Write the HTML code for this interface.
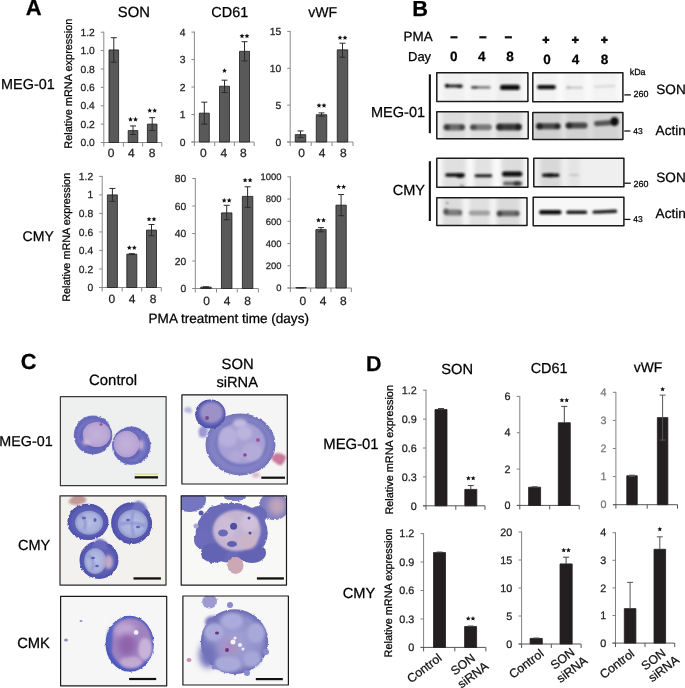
<!DOCTYPE html>
<html><head><meta charset="utf-8"><style>
html,body{margin:0;padding:0;background:#fff;width:685px;height:688px;overflow:hidden;}
svg{display:block;font-family:"Liberation Sans", sans-serif;}

</style></head><body>
<svg width="685" height="688" viewBox="0 0 685 688" style="will-change:transform" text-rendering="geometricPrecision" font-family='"Liberation Sans", sans-serif' stroke-linejoin="round">
<defs><filter id="bl1" x="-20%" y="-100%" width="140%" height="300%"><feGaussianBlur stdDeviation="0.9 0.8"/></filter><filter id="bl15" x="-20%" y="-100%" width="140%" height="300%"><feGaussianBlur stdDeviation="1.3 1.3"/></filter><filter id="bl2" x="-20%" y="-50%" width="140%" height="200%"><feGaussianBlur stdDeviation="2.2"/></filter><filter id="bl05" x="-20%" y="-100%" width="140%" height="300%"><feGaussianBlur stdDeviation="0.55"/></filter><clipPath id="bclip1"><rect x="436.80" y="72.70" width="91.10" height="28.80"/></clipPath><clipPath id="bclip2"><rect x="436.80" y="111.80" width="91.40" height="27.00"/></clipPath><clipPath id="bclip3"><rect x="532.80" y="72.80" width="90.10" height="29.00"/></clipPath><clipPath id="bclip4"><rect x="532.80" y="112.60" width="90.10" height="26.90"/></clipPath><clipPath id="bclip5"><rect x="436.80" y="158.20" width="91.10" height="29.00"/></clipPath><clipPath id="bclip6"><rect x="436.80" y="197.80" width="90.20" height="27.70"/></clipPath><clipPath id="bclip7"><rect x="533.80" y="158.20" width="90.10" height="28.60"/></clipPath><clipPath id="bclip8"><rect x="533.20" y="197.30" width="90.70" height="28.50"/></clipPath><filter id="cb06" x="-50%" y="-50%" width="200%" height="200%"><feGaussianBlur stdDeviation="0.6"/></filter><filter id="cb15" x="-60%" y="-60%" width="220%" height="220%"><feGaussianBlur stdDeviation="1.5"/></filter><filter id="cb3" x="-100%" y="-100%" width="300%" height="300%"><feGaussianBlur stdDeviation="3"/></filter><filter id="cb1" x="-50%" y="-50%" width="200%" height="200%"><feGaussianBlur stdDeviation="1.0"/></filter><filter id="rough" x="-20%" y="-20%" width="140%" height="140%"><feTurbulence type="fractalNoise" baseFrequency="0.3" numOctaves="2" seed="3" result="t"/><feDisplacementMap in="SourceGraphic" in2="t" scale="2.6" xChannelSelector="R" yChannelSelector="G" result="d"/><feGaussianBlur in="d" stdDeviation="0.75"/></filter><filter id="rough2" x="-20%" y="-20%" width="140%" height="140%"><feTurbulence type="fractalNoise" baseFrequency="0.09" numOctaves="2" seed="7" result="t"/><feDisplacementMap in="SourceGraphic" in2="t" scale="7" xChannelSelector="R" yChannelSelector="G" result="d"/><feGaussianBlur in="d" stdDeviation="0.9"/></filter><radialGradient id="cyA" cx="0.5" cy="0.5" r="0.5"><stop offset="0" stop-color="#8080c8"/><stop offset="0.75" stop-color="#7474c2"/><stop offset="0.92" stop-color="#6464ba"/><stop offset="1" stop-color="#7c7cc6"/></radialGradient><radialGradient id="nuA" cx="0.5" cy="0.5" r="0.5"><stop offset="0" stop-color="#c2b2da"/><stop offset="0.7" stop-color="#bca8d6"/><stop offset="1" stop-color="#ae9ccf"/></radialGradient><radialGradient id="cyB" cx="0.5" cy="0.5" r="0.5"><stop offset="0" stop-color="#7070c0"/><stop offset="0.8" stop-color="#5a5cb2"/><stop offset="1" stop-color="#4c50aa"/></radialGradient><radialGradient id="nuB" cx="0.5" cy="0.5" r="0.5"><stop offset="0" stop-color="#b8c0e4"/><stop offset="0.75" stop-color="#a8b0dc"/><stop offset="1" stop-color="#9098cc"/></radialGradient><radialGradient id="cyC" cx="0.5" cy="0.5" r="0.5"><stop offset="0" stop-color="#8a70b8"/><stop offset="0.85" stop-color="#7a68b4"/><stop offset="0.93" stop-color="#4a58bc"/><stop offset="1" stop-color="#4656bc"/></radialGradient><radialGradient id="cyD" cx="0.5" cy="0.5" r="0.5"><stop offset="0" stop-color="#a4a4d6"/><stop offset="0.78" stop-color="#9090ca"/><stop offset="1" stop-color="#6a6ab6"/></radialGradient><radialGradient id="cyE" cx="0.5" cy="0.5" r="0.5"><stop offset="0" stop-color="#8888c8"/><stop offset="0.85" stop-color="#8282c4"/><stop offset="1" stop-color="#7272bc"/></radialGradient><clipPath id="cc1"><rect x="60.40" y="396.60" width="105.70" height="89.10"/></clipPath><clipPath id="cc2"><rect x="181.90" y="394.80" width="105.40" height="89.20"/></clipPath><clipPath id="cc3"><rect x="60.00" y="495.80" width="106.00" height="89.30"/></clipPath><clipPath id="cc4"><rect x="181.20" y="495.80" width="105.30" height="89.30"/></clipPath><clipPath id="cc5"><rect x="60.60" y="596.30" width="106.10" height="89.50"/></clipPath><clipPath id="cc6"><rect x="182.90" y="596.00" width="105.50" height="89.00"/></clipPath></defs>
<rect width="685" height="688" fill="#fff"/>
<text stroke="#000" stroke-width="0.25" x="25.85" y="15.30" font-size="21.95" font-weight="bold" fill="#000">A</text>
<text stroke="#000" stroke-width="0.25" x="117.83" y="16.63" font-size="14.80" fill="#000">SON</text>
<text stroke="#000" stroke-width="0.25" x="211.37" y="16.95" font-size="14.40" fill="#000">CD61</text>
<text stroke="#000" stroke-width="0.25" x="308.15" y="16.62" font-size="14.13" fill="#000">vWF</text>
<text stroke="#000" stroke-width="0.25" x="1.07" y="89.36" font-size="14.41" fill="#000">MEG-01</text>
<text stroke="#000" stroke-width="0.25" x="22.58" y="241.04" font-size="14.10" fill="#000">CMY</text>
<text stroke="#000" stroke-width="0.25" x="148.59" y="323.33" font-size="13.56" fill="#000">PMA treatment time (days)</text>
<text stroke="#000" stroke-width="0.25" transform="translate(71.73,148.70) rotate(-90)" font-size="10.95" fill="#000">Relative mRNA expression</text>
<text stroke="#000" stroke-width="0.25" transform="translate(70.45,301.79) rotate(-90)" font-size="10.85" fill="#000">Relative mRNA expression</text>
<line x1="103.80" y1="31.70" x2="103.80" y2="142.50" stroke="#8a8a8a" stroke-width="1"/>
<line x1="100.80" y1="142.50" x2="103.80" y2="142.50" stroke="#8a8a8a" stroke-width="1"/>
<text stroke="#222" stroke-width="0.25" x="94.80" y="146.05" font-size="10.30" text-anchor="end" fill="#222">0.0</text>
<line x1="100.80" y1="124.12" x2="103.80" y2="124.12" stroke="#8a8a8a" stroke-width="1"/>
<text stroke="#222" stroke-width="0.25" x="94.80" y="127.66" font-size="10.30" text-anchor="end" fill="#222">0.2</text>
<line x1="100.80" y1="105.73" x2="103.80" y2="105.73" stroke="#8a8a8a" stroke-width="1"/>
<text stroke="#222" stroke-width="0.25" x="94.80" y="109.28" font-size="10.30" text-anchor="end" fill="#222">0.4</text>
<line x1="100.80" y1="87.35" x2="103.80" y2="87.35" stroke="#8a8a8a" stroke-width="1"/>
<text stroke="#222" stroke-width="0.25" x="94.80" y="90.90" font-size="10.30" text-anchor="end" fill="#222">0.6</text>
<line x1="100.80" y1="68.97" x2="103.80" y2="68.97" stroke="#8a8a8a" stroke-width="1"/>
<text stroke="#222" stroke-width="0.25" x="94.80" y="72.51" font-size="10.30" text-anchor="end" fill="#222">0.8</text>
<line x1="100.80" y1="50.58" x2="103.80" y2="50.58" stroke="#8a8a8a" stroke-width="1"/>
<text stroke="#222" stroke-width="0.25" x="94.80" y="54.13" font-size="10.30" text-anchor="end" fill="#222">1.0</text>
<line x1="100.80" y1="32.20" x2="103.80" y2="32.20" stroke="#8a8a8a" stroke-width="1"/>
<text stroke="#222" stroke-width="0.25" x="94.80" y="35.80" font-size="10.30" text-anchor="end" fill="#222">1.2</text>
<line x1="100.80" y1="142.50" x2="161.80" y2="142.50" stroke="#8a8a8a" stroke-width="1"/>
<line x1="103.80" y1="142.50" x2="103.80" y2="146.50" stroke="#8a8a8a" stroke-width="1"/>
<line x1="123.40" y1="142.50" x2="123.40" y2="146.50" stroke="#8a8a8a" stroke-width="1"/>
<line x1="142.60" y1="142.50" x2="142.60" y2="146.50" stroke="#8a8a8a" stroke-width="1"/>
<line x1="161.80" y1="142.50" x2="161.80" y2="146.50" stroke="#8a8a8a" stroke-width="1"/>
<rect x="109.00" y="49.94" width="9.60" height="92.56" fill="#595959" stroke="#1a1a1a" stroke-width="0.8"/>
<line x1="113.80" y1="37.72" x2="113.80" y2="62.16" stroke="#2a2a2a" stroke-width="1"/>
<line x1="110.80" y1="37.72" x2="116.80" y2="37.72" stroke="#2a2a2a" stroke-width="1"/>
<line x1="110.80" y1="62.16" x2="116.80" y2="62.16" stroke="#2a2a2a" stroke-width="1"/>
<rect x="128.20" y="130.55" width="9.60" height="11.95" fill="#595959" stroke="#1a1a1a" stroke-width="0.8"/>
<line x1="133.00" y1="125.95" x2="133.00" y2="134.50" stroke="#2a2a2a" stroke-width="1"/>
<line x1="130.00" y1="125.95" x2="136.00" y2="125.95" stroke="#2a2a2a" stroke-width="1"/>
<line x1="130.00" y1="134.50" x2="136.00" y2="134.50" stroke="#2a2a2a" stroke-width="1"/>
<rect x="147.40" y="124.12" width="9.60" height="18.38" fill="#595959" stroke="#1a1a1a" stroke-width="0.8"/>
<line x1="152.20" y1="117.68" x2="152.20" y2="130.55" stroke="#2a2a2a" stroke-width="1"/>
<line x1="149.20" y1="117.68" x2="155.20" y2="117.68" stroke="#2a2a2a" stroke-width="1"/>
<line x1="149.20" y1="130.55" x2="155.20" y2="130.55" stroke="#2a2a2a" stroke-width="1"/>
<text stroke="#222" stroke-width="0.25" x="111.00" y="157.03" font-size="12.00" text-anchor="middle" fill="#222">0</text>
<text stroke="#222" stroke-width="0.25" x="131.30" y="157.03" font-size="12.00" text-anchor="middle" fill="#222">4</text>
<text stroke="#222" stroke-width="0.25" x="152.00" y="157.03" font-size="12.00" text-anchor="middle" fill="#222">8</text>
<polygon points="130.50,116.86 131.19,118.51 132.97,118.66 131.61,119.82 132.03,121.56 130.50,120.63 128.97,121.56 129.39,119.82 128.03,118.66 129.81,118.51" fill="#111"/>
<polygon points="135.50,116.86 136.19,118.51 137.97,118.66 136.61,119.82 137.03,121.56 135.50,120.63 133.97,121.56 134.39,119.82 133.03,118.66 134.81,118.51" fill="#111"/>
<polygon points="149.70,108.06 150.39,109.71 152.17,109.86 150.81,111.02 151.23,112.76 149.70,111.83 148.17,112.76 148.59,111.02 147.23,109.86 149.01,109.71" fill="#111"/>
<polygon points="154.70,108.06 155.39,109.71 157.17,109.86 155.81,111.02 156.23,112.76 154.70,111.83 153.17,112.76 153.59,111.02 152.23,109.86 154.01,109.71" fill="#111"/>
<line x1="194.40" y1="31.60" x2="194.40" y2="142.00" stroke="#8a8a8a" stroke-width="1"/>
<line x1="191.40" y1="142.00" x2="194.40" y2="142.00" stroke="#8a8a8a" stroke-width="1"/>
<text stroke="#222" stroke-width="0.25" x="185.40" y="145.55" font-size="10.30" text-anchor="end" fill="#222">0</text>
<line x1="191.40" y1="114.53" x2="194.40" y2="114.53" stroke="#8a8a8a" stroke-width="1"/>
<text stroke="#222" stroke-width="0.25" x="185.40" y="118.07" font-size="10.30" text-anchor="end" fill="#222">1</text>
<line x1="191.40" y1="87.05" x2="194.40" y2="87.05" stroke="#8a8a8a" stroke-width="1"/>
<text stroke="#222" stroke-width="0.25" x="185.40" y="90.65" font-size="10.30" text-anchor="end" fill="#222">2</text>
<line x1="191.40" y1="59.57" x2="194.40" y2="59.57" stroke="#8a8a8a" stroke-width="1"/>
<text stroke="#222" stroke-width="0.25" x="185.40" y="63.12" font-size="10.30" text-anchor="end" fill="#222">3</text>
<line x1="191.40" y1="32.10" x2="194.40" y2="32.10" stroke="#8a8a8a" stroke-width="1"/>
<text stroke="#222" stroke-width="0.25" x="185.40" y="35.64" font-size="10.30" text-anchor="end" fill="#222">4</text>
<line x1="191.40" y1="142.00" x2="254.20" y2="142.00" stroke="#8a8a8a" stroke-width="1"/>
<line x1="194.40" y1="142.00" x2="194.40" y2="146.00" stroke="#8a8a8a" stroke-width="1"/>
<line x1="214.70" y1="142.00" x2="214.70" y2="146.00" stroke="#8a8a8a" stroke-width="1"/>
<line x1="234.40" y1="142.00" x2="234.40" y2="146.00" stroke="#8a8a8a" stroke-width="1"/>
<line x1="254.20" y1="142.00" x2="254.20" y2="146.00" stroke="#8a8a8a" stroke-width="1"/>
<rect x="199.30" y="113.15" width="10.00" height="28.85" fill="#595959" stroke="#1a1a1a" stroke-width="0.8"/>
<line x1="204.30" y1="102.16" x2="204.30" y2="124.14" stroke="#2a2a2a" stroke-width="1"/>
<line x1="201.30" y1="102.16" x2="207.30" y2="102.16" stroke="#2a2a2a" stroke-width="1"/>
<line x1="201.30" y1="124.14" x2="207.30" y2="124.14" stroke="#2a2a2a" stroke-width="1"/>
<rect x="219.50" y="86.23" width="10.00" height="55.77" fill="#595959" stroke="#1a1a1a" stroke-width="0.8"/>
<line x1="224.50" y1="80.18" x2="224.50" y2="92.54" stroke="#2a2a2a" stroke-width="1"/>
<line x1="221.50" y1="80.18" x2="227.50" y2="80.18" stroke="#2a2a2a" stroke-width="1"/>
<line x1="221.50" y1="92.54" x2="227.50" y2="92.54" stroke="#2a2a2a" stroke-width="1"/>
<rect x="239.50" y="51.33" width="10.00" height="90.67" fill="#595959" stroke="#1a1a1a" stroke-width="0.8"/>
<line x1="244.50" y1="41.72" x2="244.50" y2="60.95" stroke="#2a2a2a" stroke-width="1"/>
<line x1="241.50" y1="41.72" x2="247.50" y2="41.72" stroke="#2a2a2a" stroke-width="1"/>
<line x1="241.50" y1="60.95" x2="247.50" y2="60.95" stroke="#2a2a2a" stroke-width="1"/>
<text stroke="#222" stroke-width="0.25" x="203.40" y="157.23" font-size="12.00" text-anchor="middle" fill="#222">0</text>
<text stroke="#222" stroke-width="0.25" x="223.90" y="157.23" font-size="12.00" text-anchor="middle" fill="#222">4</text>
<text stroke="#222" stroke-width="0.25" x="243.40" y="157.23" font-size="12.00" text-anchor="middle" fill="#222">8</text>
<polygon points="224.50,68.16 225.19,69.81 226.97,69.96 225.61,71.12 226.03,72.86 224.50,71.93 222.97,72.86 223.39,71.12 222.03,69.96 223.81,69.81" fill="#111"/>
<polygon points="242.00,33.46 242.69,35.11 244.47,35.26 243.11,36.42 243.53,38.16 242.00,37.23 240.47,38.16 240.89,36.42 239.53,35.26 241.31,35.11" fill="#111"/>
<polygon points="247.00,33.46 247.69,35.11 249.47,35.26 248.11,36.42 248.53,38.16 247.00,37.23 245.47,38.16 245.89,36.42 244.53,35.26 246.31,35.11" fill="#111"/>
<line x1="290.20" y1="30.90" x2="290.20" y2="142.00" stroke="#8a8a8a" stroke-width="1"/>
<line x1="287.20" y1="142.00" x2="290.20" y2="142.00" stroke="#8a8a8a" stroke-width="1"/>
<text stroke="#222" stroke-width="0.25" x="281.20" y="145.55" font-size="10.30" text-anchor="end" fill="#222">0</text>
<line x1="287.20" y1="105.13" x2="290.20" y2="105.13" stroke="#8a8a8a" stroke-width="1"/>
<text stroke="#222" stroke-width="0.25" x="281.20" y="108.63" font-size="10.30" text-anchor="end" fill="#222">5</text>
<line x1="287.20" y1="68.27" x2="290.20" y2="68.27" stroke="#8a8a8a" stroke-width="1"/>
<text stroke="#222" stroke-width="0.25" x="281.20" y="71.81" font-size="10.30" text-anchor="end" fill="#222">10</text>
<line x1="287.20" y1="31.40" x2="290.20" y2="31.40" stroke="#8a8a8a" stroke-width="1"/>
<text stroke="#222" stroke-width="0.25" x="281.20" y="34.89" font-size="10.30" text-anchor="end" fill="#222">15</text>
<line x1="287.20" y1="142.00" x2="353.00" y2="142.00" stroke="#8a8a8a" stroke-width="1"/>
<line x1="290.20" y1="142.00" x2="290.20" y2="146.00" stroke="#8a8a8a" stroke-width="1"/>
<line x1="311.20" y1="142.00" x2="311.20" y2="146.00" stroke="#8a8a8a" stroke-width="1"/>
<line x1="332.10" y1="142.00" x2="332.10" y2="146.00" stroke="#8a8a8a" stroke-width="1"/>
<line x1="353.00" y1="142.00" x2="353.00" y2="146.00" stroke="#8a8a8a" stroke-width="1"/>
<rect x="295.25" y="134.63" width="10.50" height="7.37" fill="#595959" stroke="#1a1a1a" stroke-width="0.8"/>
<line x1="300.50" y1="130.94" x2="300.50" y2="137.58" stroke="#2a2a2a" stroke-width="1"/>
<line x1="297.50" y1="130.94" x2="303.50" y2="130.94" stroke="#2a2a2a" stroke-width="1"/>
<line x1="297.50" y1="137.58" x2="303.50" y2="137.58" stroke="#2a2a2a" stroke-width="1"/>
<rect x="316.25" y="114.72" width="10.50" height="27.28" fill="#595959" stroke="#1a1a1a" stroke-width="0.8"/>
<line x1="321.50" y1="112.88" x2="321.50" y2="116.19" stroke="#2a2a2a" stroke-width="1"/>
<line x1="318.50" y1="112.88" x2="324.50" y2="112.88" stroke="#2a2a2a" stroke-width="1"/>
<line x1="318.50" y1="116.19" x2="324.50" y2="116.19" stroke="#2a2a2a" stroke-width="1"/>
<rect x="337.25" y="49.83" width="10.50" height="92.17" fill="#595959" stroke="#1a1a1a" stroke-width="0.8"/>
<line x1="342.50" y1="43.20" x2="342.50" y2="57.21" stroke="#2a2a2a" stroke-width="1"/>
<line x1="339.50" y1="43.20" x2="345.50" y2="43.20" stroke="#2a2a2a" stroke-width="1"/>
<line x1="339.50" y1="57.21" x2="345.50" y2="57.21" stroke="#2a2a2a" stroke-width="1"/>
<text stroke="#222" stroke-width="0.25" x="301.50" y="157.23" font-size="12.00" text-anchor="middle" fill="#222">0</text>
<text stroke="#222" stroke-width="0.25" x="322.10" y="157.23" font-size="12.00" text-anchor="middle" fill="#222">4</text>
<text stroke="#222" stroke-width="0.25" x="343.40" y="157.23" font-size="12.00" text-anchor="middle" fill="#222">8</text>
<polygon points="319.00,102.96 319.69,104.61 321.47,104.76 320.11,105.92 320.53,107.66 319.00,106.73 317.47,107.66 317.89,105.92 316.53,104.76 318.31,104.61" fill="#111"/>
<polygon points="324.00,102.96 324.69,104.61 326.47,104.76 325.11,105.92 325.53,107.66 324.00,106.73 322.47,107.66 322.89,105.92 321.53,104.76 323.31,104.61" fill="#111"/>
<polygon points="340.00,35.16 340.69,36.81 342.47,36.96 341.11,38.12 341.53,39.86 340.00,38.93 338.47,39.86 338.89,38.12 337.53,36.96 339.31,36.81" fill="#111"/>
<polygon points="345.00,35.16 345.69,36.81 347.47,36.96 346.11,38.12 346.53,39.86 345.00,38.93 343.47,39.86 343.89,38.12 342.53,36.96 344.31,36.81" fill="#111"/>
<line x1="102.20" y1="175.90" x2="102.20" y2="287.50" stroke="#8a8a8a" stroke-width="1"/>
<line x1="99.20" y1="287.50" x2="102.20" y2="287.50" stroke="#8a8a8a" stroke-width="1"/>
<text stroke="#222" stroke-width="0.25" x="93.20" y="291.05" font-size="10.30" text-anchor="end" fill="#222">0</text>
<line x1="99.20" y1="268.98" x2="102.20" y2="268.98" stroke="#8a8a8a" stroke-width="1"/>
<text stroke="#222" stroke-width="0.25" x="93.20" y="272.53" font-size="10.30" text-anchor="end" fill="#222">0.2</text>
<line x1="99.20" y1="250.47" x2="102.20" y2="250.47" stroke="#8a8a8a" stroke-width="1"/>
<text stroke="#222" stroke-width="0.25" x="93.20" y="254.01" font-size="10.30" text-anchor="end" fill="#222">0.4</text>
<line x1="99.20" y1="231.95" x2="102.20" y2="231.95" stroke="#8a8a8a" stroke-width="1"/>
<text stroke="#222" stroke-width="0.25" x="93.20" y="235.50" font-size="10.30" text-anchor="end" fill="#222">0.6</text>
<line x1="99.20" y1="213.43" x2="102.20" y2="213.43" stroke="#8a8a8a" stroke-width="1"/>
<text stroke="#222" stroke-width="0.25" x="93.20" y="216.98" font-size="10.30" text-anchor="end" fill="#222">0.8</text>
<line x1="99.20" y1="194.92" x2="102.20" y2="194.92" stroke="#8a8a8a" stroke-width="1"/>
<text stroke="#222" stroke-width="0.25" x="93.20" y="198.46" font-size="10.30" text-anchor="end" fill="#222">1</text>
<line x1="99.20" y1="176.40" x2="102.20" y2="176.40" stroke="#8a8a8a" stroke-width="1"/>
<text stroke="#222" stroke-width="0.25" x="93.20" y="180.00" font-size="10.30" text-anchor="end" fill="#222">1.2</text>
<line x1="99.20" y1="287.50" x2="161.30" y2="287.50" stroke="#8a8a8a" stroke-width="1"/>
<line x1="102.20" y1="287.50" x2="102.20" y2="291.50" stroke="#8a8a8a" stroke-width="1"/>
<line x1="122.20" y1="287.50" x2="122.20" y2="291.50" stroke="#8a8a8a" stroke-width="1"/>
<line x1="141.70" y1="287.50" x2="141.70" y2="291.50" stroke="#8a8a8a" stroke-width="1"/>
<line x1="161.30" y1="287.50" x2="161.30" y2="291.50" stroke="#8a8a8a" stroke-width="1"/>
<rect x="107.40" y="194.92" width="10.00" height="92.58" fill="#595959" stroke="#1a1a1a" stroke-width="0.8"/>
<line x1="112.40" y1="188.44" x2="112.40" y2="201.40" stroke="#2a2a2a" stroke-width="1"/>
<line x1="109.40" y1="188.44" x2="115.40" y2="188.44" stroke="#2a2a2a" stroke-width="1"/>
<line x1="109.40" y1="201.40" x2="115.40" y2="201.40" stroke="#2a2a2a" stroke-width="1"/>
<rect x="126.80" y="254.17" width="10.00" height="33.33" fill="#595959" stroke="#1a1a1a" stroke-width="0.8"/>
<line x1="131.80" y1="253.71" x2="131.80" y2="254.63" stroke="#2a2a2a" stroke-width="1"/>
<line x1="128.80" y1="253.71" x2="134.80" y2="253.71" stroke="#2a2a2a" stroke-width="1"/>
<line x1="128.80" y1="254.63" x2="134.80" y2="254.63" stroke="#2a2a2a" stroke-width="1"/>
<rect x="146.50" y="230.10" width="10.00" height="57.40" fill="#595959" stroke="#1a1a1a" stroke-width="0.8"/>
<line x1="151.50" y1="224.54" x2="151.50" y2="235.65" stroke="#2a2a2a" stroke-width="1"/>
<line x1="148.50" y1="224.54" x2="154.50" y2="224.54" stroke="#2a2a2a" stroke-width="1"/>
<line x1="148.50" y1="235.65" x2="154.50" y2="235.65" stroke="#2a2a2a" stroke-width="1"/>
<text stroke="#222" stroke-width="0.25" x="111.90" y="303.43" font-size="12.00" text-anchor="middle" fill="#222">0</text>
<text stroke="#222" stroke-width="0.25" x="132.00" y="303.43" font-size="12.00" text-anchor="middle" fill="#222">4</text>
<text stroke="#222" stroke-width="0.25" x="153.00" y="303.43" font-size="12.00" text-anchor="middle" fill="#222">8</text>
<polygon points="129.30,245.16 129.99,246.81 131.77,246.96 130.41,248.12 130.83,249.86 129.30,248.93 127.77,249.86 128.19,248.12 126.83,246.96 128.61,246.81" fill="#111"/>
<polygon points="134.30,245.16 134.99,246.81 136.77,246.96 135.41,248.12 135.83,249.86 134.30,248.93 132.77,249.86 133.19,248.12 131.83,246.96 133.61,246.81" fill="#111"/>
<polygon points="149.00,216.66 149.69,218.31 151.47,218.46 150.11,219.62 150.53,221.36 149.00,220.43 147.47,221.36 147.89,219.62 146.53,218.46 148.31,218.31" fill="#111"/>
<polygon points="154.00,216.66 154.69,218.31 156.47,218.46 155.11,219.62 155.53,221.36 154.00,220.43 152.47,221.36 152.89,219.62 151.53,218.46 153.31,218.31" fill="#111"/>
<line x1="195.30" y1="178.00" x2="195.30" y2="288.50" stroke="#8a8a8a" stroke-width="1"/>
<line x1="192.30" y1="288.50" x2="195.30" y2="288.50" stroke="#8a8a8a" stroke-width="1"/>
<text stroke="#222" stroke-width="0.25" x="186.30" y="292.05" font-size="10.30" text-anchor="end" fill="#222">0</text>
<line x1="192.30" y1="261.00" x2="195.30" y2="261.00" stroke="#8a8a8a" stroke-width="1"/>
<text stroke="#222" stroke-width="0.25" x="186.30" y="264.55" font-size="10.30" text-anchor="end" fill="#222">20</text>
<line x1="192.30" y1="233.50" x2="195.30" y2="233.50" stroke="#8a8a8a" stroke-width="1"/>
<text stroke="#222" stroke-width="0.25" x="186.30" y="237.05" font-size="10.30" text-anchor="end" fill="#222">40</text>
<line x1="192.30" y1="206.00" x2="195.30" y2="206.00" stroke="#8a8a8a" stroke-width="1"/>
<text stroke="#222" stroke-width="0.25" x="186.30" y="209.55" font-size="10.30" text-anchor="end" fill="#222">60</text>
<line x1="192.30" y1="178.50" x2="195.30" y2="178.50" stroke="#8a8a8a" stroke-width="1"/>
<text stroke="#222" stroke-width="0.25" x="186.30" y="182.05" font-size="10.30" text-anchor="end" fill="#222">80</text>
<line x1="192.30" y1="288.50" x2="258.40" y2="288.50" stroke="#8a8a8a" stroke-width="1"/>
<line x1="195.30" y1="288.50" x2="195.30" y2="292.50" stroke="#8a8a8a" stroke-width="1"/>
<line x1="216.50" y1="288.50" x2="216.50" y2="292.50" stroke="#8a8a8a" stroke-width="1"/>
<line x1="237.30" y1="288.50" x2="237.30" y2="292.50" stroke="#8a8a8a" stroke-width="1"/>
<line x1="258.40" y1="288.50" x2="258.40" y2="292.50" stroke="#8a8a8a" stroke-width="1"/>
<rect x="200.75" y="287.12" width="10.50" height="1.38" fill="#595959" stroke="#1a1a1a" stroke-width="0.8"/>
<line x1="206.00" y1="286.85" x2="206.00" y2="287.40" stroke="#2a2a2a" stroke-width="1"/>
<line x1="203.00" y1="286.85" x2="209.00" y2="286.85" stroke="#2a2a2a" stroke-width="1"/>
<line x1="203.00" y1="287.40" x2="209.00" y2="287.40" stroke="#2a2a2a" stroke-width="1"/>
<rect x="221.45" y="212.88" width="10.50" height="75.62" fill="#595959" stroke="#1a1a1a" stroke-width="0.8"/>
<line x1="226.70" y1="205.31" x2="226.70" y2="219.75" stroke="#2a2a2a" stroke-width="1"/>
<line x1="223.70" y1="205.31" x2="229.70" y2="205.31" stroke="#2a2a2a" stroke-width="1"/>
<line x1="223.70" y1="219.75" x2="229.70" y2="219.75" stroke="#2a2a2a" stroke-width="1"/>
<rect x="242.35" y="196.38" width="10.50" height="92.12" fill="#595959" stroke="#1a1a1a" stroke-width="0.8"/>
<line x1="247.60" y1="186.75" x2="247.60" y2="207.38" stroke="#2a2a2a" stroke-width="1"/>
<line x1="244.60" y1="186.75" x2="250.60" y2="186.75" stroke="#2a2a2a" stroke-width="1"/>
<line x1="244.60" y1="207.38" x2="250.60" y2="207.38" stroke="#2a2a2a" stroke-width="1"/>
<text stroke="#222" stroke-width="0.25" x="206.70" y="305.03" font-size="12.00" text-anchor="middle" fill="#222">0</text>
<text stroke="#222" stroke-width="0.25" x="227.00" y="305.03" font-size="12.00" text-anchor="middle" fill="#222">4</text>
<text stroke="#222" stroke-width="0.25" x="247.70" y="305.03" font-size="12.00" text-anchor="middle" fill="#222">8</text>
<polygon points="224.20,197.86 224.89,199.51 226.67,199.66 225.31,200.82 225.73,202.56 224.20,201.63 222.67,202.56 223.09,200.82 221.73,199.66 223.51,199.51" fill="#111"/>
<polygon points="229.20,197.86 229.89,199.51 231.67,199.66 230.31,200.82 230.73,202.56 229.20,201.63 227.67,202.56 228.09,200.82 226.73,199.66 228.51,199.51" fill="#111"/>
<polygon points="245.10,177.66 245.79,179.31 247.57,179.46 246.21,180.62 246.63,182.36 245.10,181.43 243.57,182.36 243.99,180.62 242.63,179.46 244.41,179.31" fill="#111"/>
<polygon points="250.10,177.66 250.79,179.31 252.57,179.46 251.21,180.62 251.63,182.36 250.10,181.43 248.57,182.36 248.99,180.62 247.63,179.46 249.41,179.31" fill="#111"/>
<line x1="290.40" y1="176.30" x2="290.40" y2="288.00" stroke="#8a8a8a" stroke-width="1"/>
<line x1="287.40" y1="288.00" x2="290.40" y2="288.00" stroke="#8a8a8a" stroke-width="1"/>
<text stroke="#222" stroke-width="0.25" x="281.40" y="291.24" font-size="9.40" text-anchor="end" fill="#222">0</text>
<line x1="287.40" y1="265.76" x2="290.40" y2="265.76" stroke="#8a8a8a" stroke-width="1"/>
<text stroke="#222" stroke-width="0.25" x="281.40" y="269.00" font-size="9.40" text-anchor="end" fill="#222">200</text>
<line x1="287.40" y1="243.52" x2="290.40" y2="243.52" stroke="#8a8a8a" stroke-width="1"/>
<text stroke="#222" stroke-width="0.25" x="281.40" y="246.76" font-size="9.40" text-anchor="end" fill="#222">400</text>
<line x1="287.40" y1="221.28" x2="290.40" y2="221.28" stroke="#8a8a8a" stroke-width="1"/>
<text stroke="#222" stroke-width="0.25" x="281.40" y="224.52" font-size="9.40" text-anchor="end" fill="#222">600</text>
<line x1="287.40" y1="199.04" x2="290.40" y2="199.04" stroke="#8a8a8a" stroke-width="1"/>
<text stroke="#222" stroke-width="0.25" x="281.40" y="202.28" font-size="9.40" text-anchor="end" fill="#222">800</text>
<line x1="287.40" y1="176.80" x2="290.40" y2="176.80" stroke="#8a8a8a" stroke-width="1"/>
<text stroke="#222" stroke-width="0.25" x="281.40" y="180.04" font-size="9.40" text-anchor="end" fill="#222">1000</text>
<line x1="287.40" y1="288.00" x2="351.40" y2="288.00" stroke="#8a8a8a" stroke-width="1"/>
<line x1="290.40" y1="288.00" x2="290.40" y2="292.00" stroke="#8a8a8a" stroke-width="1"/>
<line x1="310.70" y1="288.00" x2="310.70" y2="292.00" stroke="#8a8a8a" stroke-width="1"/>
<line x1="331.00" y1="288.00" x2="331.00" y2="292.00" stroke="#8a8a8a" stroke-width="1"/>
<line x1="351.40" y1="288.00" x2="351.40" y2="292.00" stroke="#8a8a8a" stroke-width="1"/>
<rect x="295.85" y="287.67" width="10.30" height="0.33" fill="#595959" stroke="#1a1a1a" stroke-width="0.8"/>
<line x1="301.00" y1="287.56" x2="301.00" y2="287.78" stroke="#2a2a2a" stroke-width="1"/>
<line x1="298.00" y1="287.56" x2="304.00" y2="287.56" stroke="#2a2a2a" stroke-width="1"/>
<line x1="298.00" y1="287.78" x2="304.00" y2="287.78" stroke="#2a2a2a" stroke-width="1"/>
<rect x="315.85" y="229.62" width="10.30" height="58.38" fill="#595959" stroke="#1a1a1a" stroke-width="0.8"/>
<line x1="321.00" y1="227.62" x2="321.00" y2="231.84" stroke="#2a2a2a" stroke-width="1"/>
<line x1="318.00" y1="227.62" x2="324.00" y2="227.62" stroke="#2a2a2a" stroke-width="1"/>
<line x1="318.00" y1="231.84" x2="324.00" y2="231.84" stroke="#2a2a2a" stroke-width="1"/>
<rect x="335.95" y="205.16" width="10.30" height="82.84" fill="#595959" stroke="#1a1a1a" stroke-width="0.8"/>
<line x1="341.10" y1="194.59" x2="341.10" y2="215.72" stroke="#2a2a2a" stroke-width="1"/>
<line x1="338.10" y1="194.59" x2="344.10" y2="194.59" stroke="#2a2a2a" stroke-width="1"/>
<line x1="338.10" y1="215.72" x2="344.10" y2="215.72" stroke="#2a2a2a" stroke-width="1"/>
<text stroke="#222" stroke-width="0.25" x="302.90" y="304.73" font-size="12.00" text-anchor="middle" fill="#222">0</text>
<text stroke="#222" stroke-width="0.25" x="323.00" y="304.73" font-size="12.00" text-anchor="middle" fill="#222">4</text>
<text stroke="#222" stroke-width="0.25" x="343.30" y="304.73" font-size="12.00" text-anchor="middle" fill="#222">8</text>
<polygon points="318.50,217.66 319.19,219.31 320.97,219.46 319.61,220.62 320.03,222.36 318.50,221.43 316.97,222.36 317.39,220.62 316.03,219.46 317.81,219.31" fill="#111"/>
<polygon points="323.50,217.66 324.19,219.31 325.97,219.46 324.61,220.62 325.03,222.36 323.50,221.43 321.97,222.36 322.39,220.62 321.03,219.46 322.81,219.31" fill="#111"/>
<polygon points="338.60,184.26 339.29,185.91 341.07,186.06 339.71,187.22 340.13,188.96 338.60,188.03 337.07,188.96 337.49,187.22 336.13,186.06 337.91,185.91" fill="#111"/>
<polygon points="343.60,184.26 344.29,185.91 346.07,186.06 344.71,187.22 345.13,188.96 343.60,188.03 342.07,188.96 342.49,187.22 341.13,186.06 342.91,185.91" fill="#111"/>
<text stroke="#000" stroke-width="0.25" x="366.06" y="371.40" font-size="21.51" font-weight="bold" fill="#000">D</text>
<text stroke="#000" stroke-width="0.25" x="441.23" y="373.93" font-size="14.66" fill="#000">SON</text>
<text stroke="#000" stroke-width="0.25" x="530.67" y="372.96" font-size="14.41" fill="#000">CD61</text>
<text stroke="#000" stroke-width="0.25" x="633.75" y="372.48" font-size="13.92" fill="#000">vWF</text>
<text stroke="#000" stroke-width="0.25" x="323.28" y="449.30" font-size="14.89" fill="#000">MEG-01</text>
<text stroke="#000" stroke-width="0.25" x="342.76" y="598.43" font-size="14.66" fill="#000">CMY</text>
<text stroke="#000" stroke-width="0.25" transform="translate(392.92,514.59) rotate(-90)" font-size="10.90" fill="#000">Relative mRNA expression</text>
<text stroke="#000" stroke-width="0.25" transform="translate(392.25,657.39) rotate(-90)" font-size="10.85" fill="#000">Relative mRNA expression</text>
<line x1="426.00" y1="389.70" x2="426.00" y2="505.80" stroke="#808080" stroke-width="1"/>
<line x1="423.00" y1="505.80" x2="426.00" y2="505.80" stroke="#808080" stroke-width="1"/>
<text stroke="#222" stroke-width="0.25" x="416.70" y="509.52" font-size="10.80" text-anchor="end" fill="#222">0</text>
<line x1="423.00" y1="476.90" x2="426.00" y2="476.90" stroke="#808080" stroke-width="1"/>
<text stroke="#222" stroke-width="0.25" x="416.70" y="480.62" font-size="10.80" text-anchor="end" fill="#222">0.3</text>
<line x1="423.00" y1="448.00" x2="426.00" y2="448.00" stroke="#808080" stroke-width="1"/>
<text stroke="#222" stroke-width="0.25" x="416.70" y="451.72" font-size="10.80" text-anchor="end" fill="#222">0.6</text>
<line x1="423.00" y1="419.10" x2="426.00" y2="419.10" stroke="#808080" stroke-width="1"/>
<text stroke="#222" stroke-width="0.25" x="416.70" y="422.82" font-size="10.80" text-anchor="end" fill="#222">0.9</text>
<line x1="423.00" y1="390.20" x2="426.00" y2="390.20" stroke="#808080" stroke-width="1"/>
<text stroke="#222" stroke-width="0.25" x="416.70" y="393.97" font-size="10.80" text-anchor="end" fill="#222">1.2</text>
<line x1="423.00" y1="505.80" x2="485.00" y2="505.80" stroke="#555" stroke-width="1"/>
<line x1="426.00" y1="505.80" x2="426.00" y2="509.80" stroke="#555" stroke-width="1"/>
<line x1="455.80" y1="505.80" x2="455.80" y2="509.80" stroke="#555" stroke-width="1"/>
<line x1="485.00" y1="505.80" x2="485.00" y2="509.80" stroke="#555" stroke-width="1"/>
<rect x="435.00" y="409.47" width="12.00" height="96.33" fill="#231f20" stroke="#231f20" stroke-width="0.8"/>
<line x1="441.00" y1="408.50" x2="441.00" y2="409.47" stroke="#444" stroke-width="1"/>
<line x1="438.00" y1="408.50" x2="444.00" y2="408.50" stroke="#444" stroke-width="1"/>
<rect x="464.80" y="489.42" width="12.00" height="16.38" fill="#231f20" stroke="#231f20" stroke-width="0.8"/>
<line x1="470.80" y1="485.57" x2="470.80" y2="489.42" stroke="#444" stroke-width="1"/>
<line x1="467.80" y1="485.57" x2="473.80" y2="485.57" stroke="#444" stroke-width="1"/>
<polygon points="468.40,475.70 469.07,477.33 470.83,477.47 469.49,478.61 469.90,480.32 468.40,479.40 466.90,480.32 467.31,478.61 465.97,477.47 467.73,477.33" fill="#111"/>
<polygon points="473.20,475.70 473.87,477.33 475.63,477.47 474.29,478.61 474.70,480.32 473.20,479.40 471.70,480.32 472.11,478.61 470.77,477.47 472.53,477.33" fill="#111"/>
<line x1="519.80" y1="395.90" x2="519.80" y2="505.40" stroke="#808080" stroke-width="1"/>
<line x1="516.80" y1="505.40" x2="519.80" y2="505.40" stroke="#808080" stroke-width="1"/>
<text stroke="#222" stroke-width="0.25" x="510.50" y="509.12" font-size="10.80" text-anchor="end" fill="#222">0</text>
<line x1="516.80" y1="469.07" x2="519.80" y2="469.07" stroke="#808080" stroke-width="1"/>
<text stroke="#222" stroke-width="0.25" x="510.50" y="472.84" font-size="10.80" text-anchor="end" fill="#222">2</text>
<line x1="516.80" y1="432.73" x2="519.80" y2="432.73" stroke="#808080" stroke-width="1"/>
<text stroke="#222" stroke-width="0.25" x="510.50" y="436.45" font-size="10.80" text-anchor="end" fill="#222">4</text>
<line x1="516.80" y1="396.40" x2="519.80" y2="396.40" stroke="#808080" stroke-width="1"/>
<text stroke="#222" stroke-width="0.25" x="510.50" y="400.12" font-size="10.80" text-anchor="end" fill="#222">6</text>
<line x1="516.80" y1="505.40" x2="579.20" y2="505.40" stroke="#555" stroke-width="1"/>
<line x1="519.80" y1="505.40" x2="519.80" y2="509.40" stroke="#555" stroke-width="1"/>
<line x1="549.70" y1="505.40" x2="549.70" y2="509.40" stroke="#555" stroke-width="1"/>
<line x1="579.20" y1="505.40" x2="579.20" y2="509.40" stroke="#555" stroke-width="1"/>
<rect x="528.60" y="487.23" width="12.00" height="18.17" fill="#231f20" stroke="#231f20" stroke-width="0.8"/>
<line x1="534.60" y1="486.87" x2="534.60" y2="487.23" stroke="#444" stroke-width="1"/>
<line x1="531.60" y1="486.87" x2="537.60" y2="486.87" stroke="#444" stroke-width="1"/>
<rect x="558.30" y="422.74" width="12.00" height="82.66" fill="#231f20" stroke="#231f20" stroke-width="0.8"/>
<line x1="564.30" y1="406.39" x2="564.30" y2="422.74" stroke="#444" stroke-width="1"/>
<line x1="561.30" y1="406.39" x2="567.30" y2="406.39" stroke="#444" stroke-width="1"/>
<polygon points="561.90,397.70 562.57,399.33 564.33,399.47 562.99,400.61 563.40,402.32 561.90,401.40 560.40,402.32 560.81,400.61 559.47,399.47 561.23,399.33" fill="#111"/>
<polygon points="566.70,397.70 567.37,399.33 569.13,399.47 567.79,400.61 568.20,402.32 566.70,401.40 565.20,402.32 565.61,400.61 564.27,399.47 566.03,399.33" fill="#111"/>
<line x1="615.90" y1="391.80" x2="615.90" y2="504.70" stroke="#808080" stroke-width="1"/>
<line x1="612.90" y1="504.70" x2="615.90" y2="504.70" stroke="#808080" stroke-width="1"/>
<text stroke="#777" stroke-width="0.25" x="606.60" y="508.42" font-size="10.80" text-anchor="end" fill="#777">0</text>
<line x1="612.90" y1="476.60" x2="615.90" y2="476.60" stroke="#808080" stroke-width="1"/>
<text stroke="#777" stroke-width="0.25" x="606.60" y="480.32" font-size="10.80" text-anchor="end" fill="#777">1</text>
<line x1="612.90" y1="448.50" x2="615.90" y2="448.50" stroke="#808080" stroke-width="1"/>
<text stroke="#777" stroke-width="0.25" x="606.60" y="452.27" font-size="10.80" text-anchor="end" fill="#777">2</text>
<line x1="612.90" y1="420.40" x2="615.90" y2="420.40" stroke="#808080" stroke-width="1"/>
<text stroke="#777" stroke-width="0.25" x="606.60" y="424.12" font-size="10.80" text-anchor="end" fill="#777">3</text>
<line x1="612.90" y1="392.30" x2="615.90" y2="392.30" stroke="#808080" stroke-width="1"/>
<text stroke="#777" stroke-width="0.25" x="606.60" y="396.02" font-size="10.80" text-anchor="end" fill="#777">4</text>
<line x1="612.90" y1="504.70" x2="677.50" y2="504.70" stroke="#555" stroke-width="1"/>
<line x1="615.90" y1="504.70" x2="615.90" y2="508.70" stroke="#555" stroke-width="1"/>
<line x1="647.20" y1="504.70" x2="647.20" y2="508.70" stroke="#555" stroke-width="1"/>
<line x1="677.50" y1="504.70" x2="677.50" y2="508.70" stroke="#555" stroke-width="1"/>
<rect x="626.75" y="475.76" width="10.50" height="28.94" fill="#231f20" stroke="#231f20" stroke-width="0.8"/>
<line x1="632.00" y1="475.19" x2="632.00" y2="476.32" stroke="#555" stroke-width="1"/>
<line x1="629.00" y1="475.19" x2="635.00" y2="475.19" stroke="#555" stroke-width="1"/>
<line x1="629.00" y1="476.32" x2="635.00" y2="476.32" stroke="#555" stroke-width="1"/>
<rect x="657.35" y="417.59" width="10.50" height="87.11" fill="#231f20" stroke="#231f20" stroke-width="0.8"/>
<line x1="662.60" y1="395.11" x2="662.60" y2="440.07" stroke="#555" stroke-width="1"/>
<line x1="659.60" y1="395.11" x2="665.60" y2="395.11" stroke="#555" stroke-width="1"/>
<line x1="659.60" y1="440.07" x2="665.60" y2="440.07" stroke="#555" stroke-width="1"/>
<polygon points="662.60,386.70 663.27,388.33 665.03,388.47 663.69,389.61 664.10,391.32 662.60,390.40 661.10,391.32 661.51,389.61 660.17,388.47 661.93,388.33" fill="#111"/>
<line x1="423.60" y1="533.10" x2="423.60" y2="647.40" stroke="#808080" stroke-width="1"/>
<line x1="420.60" y1="647.40" x2="423.60" y2="647.40" stroke="#808080" stroke-width="1"/>
<text stroke="#222" stroke-width="0.25" x="414.30" y="651.12" font-size="10.80" text-anchor="end" fill="#222">0</text>
<line x1="420.60" y1="618.95" x2="423.60" y2="618.95" stroke="#808080" stroke-width="1"/>
<text stroke="#222" stroke-width="0.25" x="414.30" y="622.67" font-size="10.80" text-anchor="end" fill="#222">0.3</text>
<line x1="420.60" y1="590.50" x2="423.60" y2="590.50" stroke="#808080" stroke-width="1"/>
<text stroke="#222" stroke-width="0.25" x="414.30" y="594.22" font-size="10.80" text-anchor="end" fill="#222">0.6</text>
<line x1="420.60" y1="562.05" x2="423.60" y2="562.05" stroke="#808080" stroke-width="1"/>
<text stroke="#222" stroke-width="0.25" x="414.30" y="565.77" font-size="10.80" text-anchor="end" fill="#222">0.9</text>
<line x1="420.60" y1="533.60" x2="423.60" y2="533.60" stroke="#808080" stroke-width="1"/>
<text stroke="#222" stroke-width="0.25" x="414.30" y="537.37" font-size="10.80" text-anchor="end" fill="#222">1.2</text>
<line x1="420.60" y1="647.40" x2="485.90" y2="647.40" stroke="#555" stroke-width="1"/>
<line x1="423.60" y1="647.40" x2="423.60" y2="651.40" stroke="#555" stroke-width="1"/>
<line x1="454.80" y1="647.40" x2="454.80" y2="651.40" stroke="#555" stroke-width="1"/>
<line x1="485.90" y1="647.40" x2="485.90" y2="651.40" stroke="#555" stroke-width="1"/>
<rect x="433.50" y="552.57" width="12.00" height="94.83" fill="#231f20" stroke="#231f20" stroke-width="0.8"/>
<line x1="439.50" y1="552.09" x2="439.50" y2="552.57" stroke="#444" stroke-width="1"/>
<line x1="436.50" y1="552.09" x2="442.50" y2="552.09" stroke="#444" stroke-width="1"/>
<rect x="464.60" y="626.54" width="12.00" height="20.86" fill="#231f20" stroke="#231f20" stroke-width="0.8"/>
<line x1="470.60" y1="626.06" x2="470.60" y2="626.54" stroke="#444" stroke-width="1"/>
<line x1="467.60" y1="626.06" x2="473.60" y2="626.06" stroke="#444" stroke-width="1"/>
<polygon points="468.20,616.00 468.87,617.63 470.63,617.77 469.29,618.91 469.70,620.62 468.20,619.70 466.70,620.62 467.11,618.91 465.77,617.77 467.53,617.63" fill="#111"/>
<polygon points="473.00,616.00 473.67,617.63 475.43,617.77 474.09,618.91 474.50,620.62 473.00,619.70 471.50,620.62 471.91,618.91 470.57,617.77 472.33,617.63" fill="#111"/>
<line x1="521.60" y1="531.50" x2="521.60" y2="644.00" stroke="#808080" stroke-width="1"/>
<line x1="518.60" y1="644.00" x2="521.60" y2="644.00" stroke="#808080" stroke-width="1"/>
<text stroke="#222" stroke-width="0.25" x="512.30" y="647.72" font-size="10.80" text-anchor="end" fill="#222">0</text>
<line x1="518.60" y1="616.00" x2="521.60" y2="616.00" stroke="#808080" stroke-width="1"/>
<text stroke="#222" stroke-width="0.25" x="512.30" y="619.66" font-size="10.80" text-anchor="end" fill="#222">5</text>
<line x1="518.60" y1="588.00" x2="521.60" y2="588.00" stroke="#808080" stroke-width="1"/>
<text stroke="#222" stroke-width="0.25" x="512.30" y="591.72" font-size="10.80" text-anchor="end" fill="#222">10</text>
<line x1="518.60" y1="560.00" x2="521.60" y2="560.00" stroke="#808080" stroke-width="1"/>
<text stroke="#222" stroke-width="0.25" x="512.30" y="563.66" font-size="10.80" text-anchor="end" fill="#222">15</text>
<line x1="518.60" y1="532.00" x2="521.60" y2="532.00" stroke="#808080" stroke-width="1"/>
<text stroke="#222" stroke-width="0.25" x="512.30" y="535.72" font-size="10.80" text-anchor="end" fill="#222">20</text>
<line x1="518.60" y1="644.00" x2="581.10" y2="644.00" stroke="#555" stroke-width="1"/>
<line x1="521.60" y1="644.00" x2="521.60" y2="648.00" stroke="#555" stroke-width="1"/>
<line x1="551.30" y1="644.00" x2="551.30" y2="648.00" stroke="#555" stroke-width="1"/>
<line x1="581.10" y1="644.00" x2="581.10" y2="648.00" stroke="#555" stroke-width="1"/>
<rect x="530.10" y="638.40" width="12.20" height="5.60" fill="#231f20" stroke="#231f20" stroke-width="0.8"/>
<line x1="536.20" y1="638.12" x2="536.20" y2="638.40" stroke="#444" stroke-width="1"/>
<line x1="533.20" y1="638.12" x2="539.20" y2="638.12" stroke="#444" stroke-width="1"/>
<rect x="560.00" y="563.92" width="12.20" height="80.08" fill="#231f20" stroke="#231f20" stroke-width="0.8"/>
<line x1="566.10" y1="557.20" x2="566.10" y2="563.92" stroke="#444" stroke-width="1"/>
<line x1="563.10" y1="557.20" x2="569.10" y2="557.20" stroke="#444" stroke-width="1"/>
<polygon points="563.70,547.71 564.37,549.33 566.13,549.47 564.79,550.61 565.20,552.32 563.70,551.40 562.20,552.32 562.61,550.61 561.27,549.47 563.03,549.33" fill="#111"/>
<polygon points="568.50,547.71 569.17,549.33 570.93,549.47 569.59,550.61 570.00,552.32 568.50,551.40 567.00,552.32 567.41,550.61 566.07,549.47 567.83,549.33" fill="#111"/>
<line x1="615.50" y1="532.20" x2="615.50" y2="643.10" stroke="#808080" stroke-width="1"/>
<line x1="612.50" y1="643.10" x2="615.50" y2="643.10" stroke="#808080" stroke-width="1"/>
<text stroke="#222" stroke-width="0.25" x="606.20" y="646.82" font-size="10.80" text-anchor="end" fill="#222">0</text>
<line x1="612.50" y1="615.50" x2="615.50" y2="615.50" stroke="#808080" stroke-width="1"/>
<text stroke="#222" stroke-width="0.25" x="606.20" y="619.22" font-size="10.80" text-anchor="end" fill="#222">1</text>
<line x1="612.50" y1="587.90" x2="615.50" y2="587.90" stroke="#808080" stroke-width="1"/>
<text stroke="#222" stroke-width="0.25" x="606.20" y="591.67" font-size="10.80" text-anchor="end" fill="#222">2</text>
<line x1="612.50" y1="560.30" x2="615.50" y2="560.30" stroke="#808080" stroke-width="1"/>
<text stroke="#222" stroke-width="0.25" x="606.20" y="564.02" font-size="10.80" text-anchor="end" fill="#222">3</text>
<line x1="612.50" y1="532.70" x2="615.50" y2="532.70" stroke="#808080" stroke-width="1"/>
<text stroke="#222" stroke-width="0.25" x="606.20" y="536.42" font-size="10.80" text-anchor="end" fill="#222">4</text>
<line x1="612.50" y1="643.10" x2="674.70" y2="643.10" stroke="#555" stroke-width="1"/>
<line x1="615.50" y1="643.10" x2="615.50" y2="647.10" stroke="#555" stroke-width="1"/>
<line x1="645.00" y1="643.10" x2="645.00" y2="647.10" stroke="#555" stroke-width="1"/>
<line x1="674.70" y1="643.10" x2="674.70" y2="647.10" stroke="#555" stroke-width="1"/>
<rect x="624.30" y="608.60" width="11.60" height="34.50" fill="#231f20" stroke="#231f20" stroke-width="0.8"/>
<line x1="630.10" y1="582.38" x2="630.10" y2="608.60" stroke="#555" stroke-width="1"/>
<line x1="627.10" y1="582.38" x2="633.10" y2="582.38" stroke="#555" stroke-width="1"/>
<rect x="654.00" y="549.26" width="11.60" height="93.84" fill="#231f20" stroke="#231f20" stroke-width="0.8"/>
<line x1="659.80" y1="536.84" x2="659.80" y2="549.26" stroke="#555" stroke-width="1"/>
<line x1="656.80" y1="536.84" x2="662.80" y2="536.84" stroke="#555" stroke-width="1"/>
<polygon points="659.80,526.71 660.47,528.33 662.23,528.47 660.89,529.61 661.30,531.32 659.80,530.40 658.30,531.32 658.71,529.61 657.37,528.47 659.13,528.33" fill="#111"/>
<text stroke="#111" stroke-width="0.25" transform="translate(442.60,659.60) rotate(-37)" font-size="12.3" text-anchor="end" fill="#111">Control</text>
<text stroke="#111" stroke-width="0.25" transform="translate(476.02,659.66) rotate(-37)" font-size="12.3" text-anchor="end" fill="#111">SON</text>
<text stroke="#111" stroke-width="0.25" transform="translate(489.40,667.90) rotate(-37)" font-size="12.3" text-anchor="end" fill="#111">siRNA</text>
<text stroke="#111" stroke-width="0.25" transform="translate(544.60,655.20) rotate(-37)" font-size="12.3" text-anchor="end" fill="#111">Control</text>
<text stroke="#111" stroke-width="0.25" transform="translate(575.72,653.96) rotate(-37)" font-size="12.3" text-anchor="end" fill="#111">SON</text>
<text stroke="#111" stroke-width="0.25" transform="translate(588.40,662.30) rotate(-37)" font-size="12.3" text-anchor="end" fill="#111">siRNA</text>
<text stroke="#111" stroke-width="0.25" transform="translate(635.30,655.30) rotate(-37)" font-size="12.3" text-anchor="end" fill="#111">Control</text>
<text stroke="#111" stroke-width="0.25" transform="translate(666.62,654.66) rotate(-37)" font-size="12.3" text-anchor="end" fill="#111">SON</text>
<text stroke="#111" stroke-width="0.25" transform="translate(680.00,661.60) rotate(-37)" font-size="12.3" text-anchor="end" fill="#111">siRNA</text>
<text stroke="#000" stroke-width="0.25" x="412.34" y="16.40" font-size="21.80" font-weight="bold" fill="#000">B</text>
<text stroke="#000" stroke-width="0.25" x="403.60" y="41.41" font-size="13.39" fill="#000">PMA</text>
<text stroke="#000" stroke-width="0.25" x="408.03" y="60.93" font-size="12.98" fill="#000">Day</text>
<rect x="450.40" y="36.20" width="7.10" height="2.20" fill="#111" stroke="none" stroke-width="1"/>
<rect x="479.30" y="36.20" width="7.10" height="2.20" fill="#111" stroke="none" stroke-width="1"/>
<rect x="504.80" y="36.20" width="7.10" height="2.20" fill="#111" stroke="none" stroke-width="1"/>
<rect x="542.50" y="38.80" width="6.80" height="2.20" fill="#111" stroke="none" stroke-width="1"/>
<rect x="544.80" y="36.50" width="2.20" height="6.80" fill="#111" stroke="none" stroke-width="1"/>
<rect x="571.90" y="38.80" width="6.90" height="2.20" fill="#111" stroke="none" stroke-width="1"/>
<rect x="574.25" y="36.50" width="2.20" height="6.80" fill="#111" stroke="none" stroke-width="1"/>
<rect x="601.10" y="38.80" width="6.60" height="2.20" fill="#111" stroke="none" stroke-width="1"/>
<rect x="603.30" y="36.50" width="2.20" height="6.80" fill="#111" stroke="none" stroke-width="1"/>
<text stroke="#000" stroke-width="0.25" x="449.97" y="61.20" font-size="13.50" font-weight="bold" fill="#000">0</text>
<text stroke="#000" stroke-width="0.25" x="477.90" y="61.19" font-size="13.50" font-weight="bold" fill="#000">4</text>
<text stroke="#000" stroke-width="0.25" x="506.27" y="61.20" font-size="13.50" font-weight="bold" fill="#000">8</text>
<text stroke="#000" stroke-width="0.25" x="543.27" y="64.05" font-size="13.50" font-weight="bold" fill="#000">0</text>
<text stroke="#000" stroke-width="0.25" x="571.70" y="64.04" font-size="13.50" font-weight="bold" fill="#000">4</text>
<text stroke="#000" stroke-width="0.25" x="600.87" y="64.05" font-size="13.50" font-weight="bold" fill="#000">8</text>
<text stroke="#000" stroke-width="0.25" x="371.01" y="116.95" font-size="14.53" fill="#000">MEG-01</text>
<text stroke="#000" stroke-width="0.25" x="392.76" y="195.27" font-size="14.56" fill="#000">CMY</text>
<rect x="428.80" y="74.30" width="2.10" height="58.90" fill="#111" stroke="none" stroke-width="1"/>
<rect x="428.80" y="161.20" width="2.10" height="59.80" fill="#111" stroke="none" stroke-width="1"/>
<text stroke="#000" stroke-width="0.25" x="629.70" y="74.78" font-size="8.94" fill="#000">kDa</text>
<text stroke="#000" stroke-width="0.25" x="633.55" y="96.73" font-size="8.93" fill="#000">260</text>
<line x1="624.30" y1="94.90" x2="630.80" y2="94.90" stroke="#111" stroke-width="1.3"/>
<text stroke="#000" stroke-width="0.25" x="633.20" y="133.74" font-size="8.51" fill="#000">43</text>
<line x1="624.30" y1="131.00" x2="630.40" y2="131.00" stroke="#111" stroke-width="1.3"/>
<text stroke="#000" stroke-width="0.25" x="656.28" y="93.88" font-size="13.60" fill="#000">SON</text>
<text stroke="#000" stroke-width="0.25" x="655.57" y="135.21" font-size="13.60" fill="#000">Actin</text>
<text stroke="#000" stroke-width="0.25" x="633.55" y="186.93" font-size="8.93" fill="#000">260</text>
<line x1="624.30" y1="183.20" x2="630.80" y2="183.20" stroke="#111" stroke-width="1.3"/>
<text stroke="#000" stroke-width="0.25" x="633.20" y="222.34" font-size="8.51" fill="#000">43</text>
<line x1="624.30" y1="219.40" x2="630.40" y2="219.40" stroke="#111" stroke-width="1.3"/>
<text stroke="#000" stroke-width="0.25" x="656.28" y="181.78" font-size="13.60" fill="#000">SON</text>
<text stroke="#000" stroke-width="0.25" x="655.57" y="218.46" font-size="13.60" fill="#000">Actin</text>
<g clip-path="url(#bclip1)">
<rect x="436.80" y="72.70" width="91.10" height="28.80" fill="#f8f8f8" stroke="none" stroke-width="1"/>
<g filter="url(#bl2)">
<rect x="443.00" y="68.70" width="22.00" height="36.80" fill="#f0f0f0" stroke="none" stroke-width="1"/>
<rect x="470.00" y="68.70" width="22.00" height="36.80" fill="#f2f2f2" stroke="none" stroke-width="1"/>
<rect x="496.00" y="68.70" width="26.00" height="36.80" fill="#ededed" stroke="none" stroke-width="1"/>
</g>
<g filter="url(#bl1)">
<rect x="445.20" y="84.60" width="17.50" height="3.00" rx="1.50" fill="#2a2a2a"/>
<rect x="471.00" y="86.20" width="19.50" height="2.40" rx="1.20" fill="#6a6a6a"/>
<rect x="500.00" y="84.70" width="19.90" height="5.40" rx="2.70" fill="#0d0d0d"/>
<ellipse cx="447.00" cy="85.80" rx="2.20" ry="2.00" fill="#111"/>
<ellipse cx="459.50" cy="86.30" rx="3.00" ry="1.80" fill="#222"/>
<ellipse cx="474.50" cy="87.30" rx="3.50" ry="1.40" fill="#444"/>
</g></g>
<rect x="436.80" y="72.70" width="91.10" height="28.80" fill="none" stroke="#1a1a1a" stroke-width="1.5"/>
<g clip-path="url(#bclip2)">
<rect x="436.80" y="111.80" width="91.40" height="27.00" fill="#f0f0f0" stroke="none" stroke-width="1"/>
<g filter="url(#bl2)">
<rect x="442.40" y="107.80" width="23.80" height="35.00" fill="#dcdcdc" stroke="none" stroke-width="1"/>
<rect x="469.70" y="107.80" width="22.50" height="35.00" fill="#dedede" stroke="none" stroke-width="1"/>
<rect x="495.70" y="107.80" width="25.90" height="35.00" fill="#d6d6d6" stroke="none" stroke-width="1"/>
</g>
<g filter="url(#bl15)">
<rect x="443.50" y="124.10" width="21.50" height="6.40" rx="3.20" fill="#6a6a6a"/>
<rect x="470.00" y="124.30" width="21.80" height="6.00" rx="3.00" fill="#787878"/>
<rect x="496.00" y="123.50" width="25.80" height="7.00" rx="3.50" fill="#4a4a4a"/>
<ellipse cx="447.00" cy="127.30" rx="3.20" ry="3.00" fill="#3a3a3a"/>
<ellipse cx="462.00" cy="127.30" rx="2.80" ry="2.80" fill="#444"/>
<ellipse cx="473.50" cy="127.30" rx="3.20" ry="2.80" fill="#4a4a4a"/>
<ellipse cx="500.00" cy="127.00" rx="3.60" ry="3.20" fill="#2a2a2a"/>
<ellipse cx="518.00" cy="127.00" rx="3.60" ry="3.30" fill="#222"/>
<ellipse cx="509.00" cy="127.00" rx="5.00" ry="2.80" fill="#383838"/>
</g></g>
<rect x="436.80" y="111.80" width="91.40" height="27.00" fill="none" stroke="#1a1a1a" stroke-width="1.5"/>
<g clip-path="url(#bclip3)">
<rect x="532.80" y="72.80" width="90.10" height="29.00" fill="#fafafa" stroke="none" stroke-width="1"/>
<g filter="url(#bl2)">
<rect x="536.00" y="68.80" width="21.00" height="37.00" fill="#f2f2f2" stroke="none" stroke-width="1"/>
<rect x="564.00" y="68.80" width="21.00" height="37.00" fill="#f3f3f3" stroke="none" stroke-width="1"/>
<rect x="592.00" y="68.80" width="25.00" height="37.00" fill="#f3f3f3" stroke="none" stroke-width="1"/>
</g>
<g filter="url(#bl1)">
<rect x="537.00" y="84.90" width="18.90" height="4.40" rx="2.20" fill="#0d0d0d"/>
<rect x="566.00" y="86.80" width="17.00" height="1.80" rx="0.90" fill="#bcbcbc"/>
<rect x="594.00" y="85.50" width="21.50" height="1.80" rx="0.90" fill="#d0d0d0" transform="rotate(-3 604.75 86.40)"/>
<ellipse cx="568.50" cy="87.60" rx="2.20" ry="1.10" fill="#aaa"/>
</g></g>
<rect x="532.80" y="72.80" width="90.10" height="29.00" fill="none" stroke="#1a1a1a" stroke-width="1.5"/>
<g clip-path="url(#bclip4)">
<rect x="532.80" y="112.60" width="90.10" height="26.90" fill="#e4e4e4" stroke="none" stroke-width="1"/>
<g filter="url(#bl2)">
<rect x="533.00" y="108.60" width="28.50" height="34.90" fill="#d0d0d0" stroke="none" stroke-width="1"/>
<rect x="565.70" y="108.60" width="23.20" height="34.90" fill="#d2d2d2" stroke="none" stroke-width="1"/>
<rect x="591.70" y="108.60" width="28.00" height="34.90" fill="#d2d2d2" stroke="none" stroke-width="1"/>
</g>
<g filter="url(#bl15)">
<rect x="536.30" y="123.30" width="24.00" height="6.00" rx="3.00" fill="#484848"/>
<rect x="565.80" y="122.60" width="21.70" height="5.80" rx="2.90" fill="#484848"/>
<rect x="594.00" y="120.30" width="23.00" height="5.40" rx="2.70" fill="#555" transform="rotate(-4 605.50 123.00)"/>
<ellipse cx="539.50" cy="126.30" rx="3.40" ry="3.20" fill="#222"/>
<ellipse cx="557.50" cy="126.30" rx="3.00" ry="3.00" fill="#262626"/>
<ellipse cx="569.00" cy="125.50" rx="3.40" ry="3.10" fill="#262626"/>
<ellipse cx="614.50" cy="121.50" rx="4.20" ry="4.60" fill="#111"/>
</g></g>
<rect x="532.80" y="112.60" width="90.10" height="26.90" fill="none" stroke="#1a1a1a" stroke-width="1.5"/>
<g clip-path="url(#bclip5)">
<rect x="436.80" y="158.20" width="91.10" height="29.00" fill="#fafafa" stroke="none" stroke-width="1"/>
<g filter="url(#bl2)">
<rect x="442.40" y="154.20" width="23.80" height="37.00" fill="#e0e0e0" stroke="none" stroke-width="1"/>
<rect x="474.00" y="154.20" width="18.20" height="37.00" fill="#e2e2e2" stroke="none" stroke-width="1"/>
<rect x="501.30" y="154.20" width="22.40" height="37.00" fill="#dcdcdc" stroke="none" stroke-width="1"/>
</g>
<g filter="url(#bl1)">
<rect x="445.20" y="173.30" width="19.60" height="3.40" rx="1.70" fill="#161616"/>
<rect x="474.60" y="174.30" width="17.60" height="3.00" rx="1.50" fill="#1a1a1a"/>
<rect x="502.00" y="171.50" width="20.30" height="5.00" rx="2.50" fill="#0d0d0d"/>
<rect x="503.00" y="181.40" width="19.30" height="4.00" rx="2.00" fill="#6a6a6a"/>
<ellipse cx="460.00" cy="175.60" rx="4.50" ry="2.30" fill="#0d0d0d"/>
<ellipse cx="517.00" cy="183.50" rx="4.00" ry="2.60" fill="#3a3a3a"/>
<ellipse cx="462.00" cy="186.00" rx="2.50" ry="1.50" fill="#999"/>
</g></g>
<rect x="436.80" y="158.20" width="91.10" height="29.00" fill="none" stroke="#1a1a1a" stroke-width="1.5"/>
<g clip-path="url(#bclip6)">
<rect x="436.80" y="197.80" width="90.20" height="27.70" fill="#f6f6f6" stroke="none" stroke-width="1"/>
<g filter="url(#bl2)">
<rect x="442.40" y="193.80" width="20.30" height="35.70" fill="#dcdcdc" stroke="none" stroke-width="1"/>
<rect x="469.00" y="193.80" width="21.00" height="35.70" fill="#e0e0e0" stroke="none" stroke-width="1"/>
<rect x="496.40" y="193.80" width="23.80" height="35.70" fill="#dadada" stroke="none" stroke-width="1"/>
</g>
<g filter="url(#bl15)">
<rect x="443.80" y="209.50" width="18.20" height="6.00" rx="3.00" fill="#7a7a7a"/>
<rect x="469.00" y="210.40" width="21.00" height="5.00" rx="2.50" fill="#a0a0a0"/>
<rect x="497.10" y="210.60" width="22.40" height="5.60" rx="2.80" fill="#6a6a6a"/>
<ellipse cx="446.00" cy="211.50" rx="2.60" ry="3.00" fill="#555"/>
<ellipse cx="460.00" cy="213.00" rx="2.20" ry="2.40" fill="#6a6a6a"/>
<ellipse cx="499.50" cy="213.60" rx="2.80" ry="2.80" fill="#444"/>
<ellipse cx="517.00" cy="213.60" rx="2.40" ry="2.40" fill="#555"/>
<ellipse cx="447.30" cy="203.10" rx="0.80" ry="1.20" fill="#666"/>
</g></g>
<rect x="436.80" y="197.80" width="90.20" height="27.70" fill="none" stroke="#1a1a1a" stroke-width="1.5"/>
<g clip-path="url(#bclip7)">
<rect x="533.80" y="158.20" width="90.10" height="28.60" fill="#efefef" stroke="none" stroke-width="1"/>
<g filter="url(#bl2)">
<rect x="540.00" y="154.20" width="21.00" height="36.60" fill="#d8d8d8" stroke="none" stroke-width="1"/>
<rect x="568.00" y="154.20" width="12.00" height="36.60" fill="#e4e4e4" stroke="none" stroke-width="1"/>
</g>
<g filter="url(#bl1)">
<rect x="542.00" y="173.60" width="17.40" height="3.40" rx="1.70" fill="#161616"/>
<rect x="569.20" y="173.90" width="9.80" height="2.20" rx="1.10" fill="#c4c4c4"/>
<ellipse cx="550.00" cy="175.30" rx="4.00" ry="2.00" fill="#0a0a0a"/>
</g></g>
<rect x="533.80" y="158.20" width="90.10" height="28.60" fill="none" stroke="#1a1a1a" stroke-width="1.5"/>
<g clip-path="url(#bclip8)">
<rect x="533.20" y="197.30" width="90.70" height="28.50" fill="#f7f7f7" stroke="none" stroke-width="1"/>
<g filter="url(#bl1)">
<rect x="539.10" y="210.00" width="22.40" height="4.40" rx="2.20" fill="#111"/>
<rect x="566.20" y="210.50" width="21.00" height="3.60" rx="1.80" fill="#161616"/>
<rect x="592.40" y="210.00" width="24.80" height="3.40" rx="1.70" fill="#1a1a1a" transform="rotate(-2.5 604.80 211.70)"/>
</g></g>
<rect x="533.20" y="197.30" width="90.70" height="28.50" fill="none" stroke="#1a1a1a" stroke-width="1.5"/>
<text stroke="#000" stroke-width="0.25" x="20.71" y="368.99" font-size="21.75" font-weight="bold" fill="#000">C</text>
<text stroke="#000" stroke-width="0.25" x="89.04" y="384.90" font-size="14.91" fill="#000">Control</text>
<text stroke="#000" stroke-width="0.25" x="221.53" y="368.74" font-size="14.80" fill="#000">SON</text>
<text stroke="#000" stroke-width="0.25" x="216.39" y="387.12" font-size="14.66" fill="#000">siRNA</text>
<text stroke="#000" stroke-width="0.25" x="-0.68" y="445.61" font-size="14.34" fill="#000">MEG-01</text>
<text stroke="#000" stroke-width="0.25" x="17.96" y="549.57" font-size="14.56" fill="#000">CMY</text>
<text stroke="#000" stroke-width="0.25" x="17.15" y="648.21" font-size="14.77" fill="#000">CMK</text>
<g clip-path="url(#cc1)">
<rect x="60.40" y="396.60" width="105.70" height="89.10" fill="#eef0ef" stroke="none" stroke-width="1"/>
<ellipse cx="93.00" cy="435.10" rx="19.30" ry="19.50" fill="url(#cyA)" filter="url(#rough)"/>
<ellipse cx="131.40" cy="445.70" rx="19.30" ry="19.20" fill="url(#cyA)" filter="url(#rough)"/>
<ellipse cx="95.20" cy="436.50" rx="15.40" ry="14.00" fill="#6060b6" filter="url(#cb15)"/>
<ellipse cx="127.80" cy="445.00" rx="14.20" ry="14.80" fill="#6262b6" filter="url(#cb15)"/>
<ellipse cx="96.70" cy="434.50" rx="14.00" ry="12.60" fill="url(#nuA)" filter="url(#cb06)"/>
<ellipse cx="126.50" cy="444.10" rx="12.80" ry="13.40" fill="url(#nuA)" filter="url(#cb06)"/>
<ellipse cx="86.50" cy="442.00" rx="4.00" ry="3.00" fill="#d0b8dc" filter="url(#cb15)"/>
<ellipse cx="141.00" cy="445.00" rx="2.50" ry="5.00" fill="#c8b0d8" filter="url(#cb15)"/>
<ellipse cx="101.00" cy="424.50" rx="1.50" ry="1.20" fill="#a05090" filter="url(#cb06)"/>
<rect x="134.70" y="473.60" width="23.30" height="1.00" fill="#dcd860"/>
<rect x="134.70" y="476.20" width="23.30" height="2.30" fill="#111"/>
</g>
<rect x="60.40" y="396.60" width="105.70" height="89.10" fill="none" stroke="#3a3a3a" stroke-width="1.2"/>
<g clip-path="url(#cc2)">
<rect x="181.90" y="394.80" width="105.40" height="89.20" fill="#f5f5f5" stroke="none" stroke-width="1"/>
<ellipse cx="203.00" cy="432.00" rx="5.50" ry="6.50" fill="#9a9ad0" filter="url(#rough2)"/>
<ellipse cx="188.00" cy="410.00" rx="4.00" ry="3.00" fill="#b8b8e0" filter="url(#rough2)"/>
<ellipse cx="240.50" cy="444.40" rx="35.00" ry="31.00" fill="url(#cyE)" filter="url(#rough)"/>
<ellipse cx="241.50" cy="443.50" rx="26.00" ry="23.00" fill="#7070bc" filter="url(#cb15)"/>
<ellipse cx="241.50" cy="443.00" rx="24.00" ry="21.00" fill="#a8a0d4" filter="url(#cb1)"/>
<ellipse cx="228.00" cy="437.00" rx="9.00" ry="10.00" fill="#b8b0dc" filter="url(#cb15)"/>
<ellipse cx="244.00" cy="433.00" rx="8.00" ry="7.00" fill="#bcb4de" filter="url(#cb15)"/>
<ellipse cx="252.00" cy="452.00" rx="10.00" ry="9.00" fill="#b4acd8" filter="url(#cb15)"/>
<ellipse cx="236.00" cy="456.00" rx="7.00" ry="5.00" fill="#b0a8d6" filter="url(#cb15)"/>
<ellipse cx="240.00" cy="423.00" rx="7.00" ry="4.00" fill="#c4bce0" filter="url(#cb15)"/>
<ellipse cx="258.00" cy="440.00" rx="2.00" ry="2.00" fill="#9a5a9a" filter="url(#cb06)"/>
<ellipse cx="245.00" cy="455.00" rx="1.80" ry="1.80" fill="#8a4a90" filter="url(#cb06)"/>
<ellipse cx="210.40" cy="414.00" rx="15.20" ry="14.40" fill="url(#cyB)" filter="url(#rough)"/>
<ellipse cx="211.50" cy="412.50" rx="11.50" ry="10.50" fill="#9c92c8" filter="url(#cb15)"/>
<ellipse cx="207.00" cy="418.00" rx="2.00" ry="2.00" fill="#7a4a90" filter="url(#cb06)"/>
<ellipse cx="278.00" cy="458.50" rx="6.00" ry="5.50" fill="#c87898" filter="url(#rough2)"/>
<ellipse cx="256.00" cy="475.00" rx="4.00" ry="2.50" fill="#d8b0c8" filter="url(#cb15)"/>
<rect x="261.30" y="476.60" width="23.70" height="2.20" fill="#111"/>
</g>
<rect x="181.90" y="394.80" width="105.40" height="89.20" fill="none" stroke="#1a1a1a" stroke-width="1.2"/>
<g clip-path="url(#cc3)">
<rect x="60.00" y="495.80" width="106.00" height="89.30" fill="#f2f1ee" stroke="none" stroke-width="1"/>
<ellipse cx="77.40" cy="500.80" rx="8.00" ry="4.50" fill="#c49898" filter="url(#rough2)"/>
<ellipse cx="87.90" cy="521.90" rx="20.60" ry="18.20" fill="url(#cyB)" filter="url(#rough)"/>
<ellipse cx="131.60" cy="523.10" rx="20.50" ry="20.90" fill="url(#cyB)" filter="url(#rough)"/>
<ellipse cx="138.00" cy="508.00" rx="8.00" ry="6.00" fill="#7070c0" filter="url(#rough2)"/>
<ellipse cx="99.00" cy="559.90" rx="19.50" ry="19.00" fill="url(#cyB)" filter="url(#rough)"/>
<ellipse cx="100.00" cy="545.00" rx="6.00" ry="5.00" fill="#6a6abc" filter="url(#rough2)"/>
<ellipse cx="89.00" cy="522.70" rx="14.00" ry="12.00" fill="url(#nuB)" filter="url(#cb06)"/>
<ellipse cx="132.80" cy="523.90" rx="15.00" ry="14.20" fill="url(#nuB)" filter="url(#cb06)"/>
<ellipse cx="95.20" cy="561.00" rx="11.00" ry="13.00" fill="url(#nuB)" filter="url(#cb06)"/>
<ellipse cx="108.50" cy="562.00" rx="4.50" ry="7.00" fill="#c0a8c8" filter="url(#cb15)"/>
<path d="M120 524 Q132 521 146 526" stroke="#8a92d0" stroke-width="2.4" fill="none" filter="url(#cb1)"/>
<path d="M133 511 Q130 524 134 537" stroke="#8a92d0" stroke-width="2.2" fill="none" filter="url(#cb1)"/>
<path d="M80 515 Q88 520 84 530" stroke="#8a92d0" stroke-width="2.2" fill="none" filter="url(#cb1)"/>
<path d="M88 555 Q96 560 92 570" stroke="#8a92d0" stroke-width="2.0" fill="none" filter="url(#cb1)"/>
<ellipse cx="84.00" cy="518.00" rx="2.00" ry="1.30" fill="#5a62b8" filter="url(#cb06)"/>
<ellipse cx="95.00" cy="520.00" rx="1.50" ry="2.00" fill="#5a62b8" filter="url(#cb06)"/>
<ellipse cx="128.00" cy="520.00" rx="2.00" ry="1.30" fill="#5a62b8" filter="url(#cb06)"/>
<ellipse cx="138.00" cy="527.00" rx="2.20" ry="1.20" fill="#6068b8" filter="url(#cb06)"/>
<ellipse cx="93.00" cy="558.00" rx="2.00" ry="1.30" fill="#5a62b8" filter="url(#cb06)"/>
<ellipse cx="97.00" cy="566.00" rx="1.80" ry="1.20" fill="#5a62b8" filter="url(#cb06)"/>
<rect x="133.50" y="577.30" width="27.40" height="2.30" fill="#111"/>
</g>
<rect x="60.00" y="495.80" width="106.00" height="89.30" fill="none" stroke="#2a2a2a" stroke-width="1.2"/>
<g clip-path="url(#cc4)">
<rect x="181.20" y="495.80" width="105.30" height="89.30" fill="#f8f8f6" stroke="none" stroke-width="1"/>
<ellipse cx="190.00" cy="500.00" rx="16.00" ry="12.00" fill="#7676c0" filter="url(#rough)"/>
<ellipse cx="274.00" cy="506.00" rx="15.00" ry="14.00" fill="#7c7cc0" filter="url(#rough)"/>
<ellipse cx="277.00" cy="506.00" rx="9.00" ry="10.00" fill="#c0a4bc" filter="url(#cb3)"/>
<ellipse cx="235.00" cy="497.00" rx="11.00" ry="4.00" fill="#7c7cc4" filter="url(#rough)"/>
<ellipse cx="231.70" cy="532.70" rx="36.00" ry="30.00" fill="#6a6ab8" filter="url(#rough)"/>
<ellipse cx="205.00" cy="540.00" rx="11.00" ry="10.00" fill="#6c6cba" filter="url(#rough)"/>
<ellipse cx="214.00" cy="553.00" rx="13.00" ry="10.00" fill="#6464b4" filter="url(#rough)"/>
<ellipse cx="252.00" cy="553.00" rx="14.00" ry="10.00" fill="#6464b4" filter="url(#rough)"/>
<ellipse cx="258.00" cy="515.00" rx="9.00" ry="9.00" fill="#6a6ab8" filter="url(#rough)"/>
<ellipse cx="215.00" cy="512.00" rx="8.00" ry="6.00" fill="#6a6ab8" filter="url(#rough)"/>
<ellipse cx="236.70" cy="530.50" rx="24.00" ry="20.50" fill="#c4b4d2" filter="url(#cb1)"/>
<ellipse cx="226.00" cy="528.00" rx="10.00" ry="12.00" fill="#ccbcd8" filter="url(#cb15)"/>
<ellipse cx="249.00" cy="523.00" rx="9.00" ry="9.00" fill="#d0c0da" filter="url(#cb15)"/>
<ellipse cx="248.00" cy="541.00" rx="9.00" ry="8.00" fill="#ccb4c8" filter="url(#cb15)"/>
<ellipse cx="223.00" cy="533.00" rx="5.00" ry="3.50" fill="#6a6ab8" filter="url(#cb06)"/>
<ellipse cx="233.60" cy="526.20" rx="3.50" ry="3.50" fill="#5050a0" filter="url(#cb06)"/>
<ellipse cx="232.00" cy="544.00" rx="5.00" ry="3.00" fill="#6060b0" filter="url(#cb06)"/>
<ellipse cx="249.00" cy="518.00" rx="1.50" ry="1.50" fill="#4a4aa0" filter="url(#cb06)"/>
<ellipse cx="250.00" cy="533.00" rx="1.50" ry="1.50" fill="#4a4aa0" filter="url(#cb06)"/>
<ellipse cx="235.50" cy="565.50" rx="8.00" ry="8.50" fill="#cca8b4" filter="url(#rough)"/>
<ellipse cx="201.10" cy="513.00" rx="2.50" ry="2.50" fill="#5a5aa8" filter="url(#cb06)"/>
<ellipse cx="196.00" cy="526.00" rx="2.50" ry="2.50" fill="#a8a8d8" filter="url(#cb06)"/>
<rect x="256.90" y="577.30" width="27.00" height="2.30" fill="#111"/>
</g>
<rect x="181.20" y="495.80" width="105.30" height="89.30" fill="none" stroke="#1a1a1a" stroke-width="1.2"/>
<g clip-path="url(#cc5)">
<rect x="60.60" y="596.30" width="106.10" height="89.50" fill="#f6f6f6" stroke="none" stroke-width="1"/>
<ellipse cx="129.70" cy="643.80" rx="24.20" ry="28.00" fill="#4c5abf" filter="url(#rough)"/>
<ellipse cx="131.00" cy="643.00" rx="20.80" ry="24.80" fill="#a082c0" filter="url(#cb1)"/>
<ellipse cx="125.00" cy="630.00" rx="11.00" ry="8.00" fill="#c0a8d6" filter="url(#cb3)"/>
<ellipse cx="145.00" cy="649.00" rx="7.00" ry="11.00" fill="#c8b4da" filter="url(#cb15)"/>
<ellipse cx="131.00" cy="662.00" rx="11.00" ry="6.00" fill="#c2aad4" filter="url(#cb15)"/>
<ellipse cx="127.00" cy="645.00" rx="9.00" ry="11.00" fill="#9064ac" filter="url(#cb3)"/>
<ellipse cx="136.10" cy="632.40" rx="2.30" ry="2.30" fill="#f2f0f6" filter="url(#cb06)"/>
<ellipse cx="110.00" cy="640.00" rx="2.50" ry="12.00" fill="#5464c4" filter="url(#cb15)"/>
<ellipse cx="66.00" cy="640.00" rx="2.00" ry="1.50" fill="#9090c8" filter="url(#cb06)"/>
<ellipse cx="81.00" cy="621.00" rx="1.50" ry="1.00" fill="#9090c8" filter="url(#cb06)"/>
<rect x="129.10" y="677.90" width="27.10" height="2.20" fill="#111"/>
</g>
<rect x="60.60" y="596.30" width="106.10" height="89.50" fill="none" stroke="#1a1a1a" stroke-width="1.2"/>
<g clip-path="url(#cc6)">
<rect x="182.90" y="596.00" width="105.50" height="89.00" fill="#f7f7f7" stroke="none" stroke-width="1"/>
<ellipse cx="209.60" cy="601.50" rx="7.40" ry="7.00" fill="#9c9cd2" filter="url(#rough)"/>
<ellipse cx="234.50" cy="641.70" rx="33.70" ry="32.50" fill="url(#cyD)" filter="url(#rough)"/>
<ellipse cx="208.00" cy="655.00" rx="9.00" ry="13.00" fill="#7272ba" filter="url(#cb3)"/>
<ellipse cx="212.00" cy="622.00" rx="7.00" ry="6.00" fill="#7474bc" filter="url(#cb15)"/>
<ellipse cx="214.00" cy="632.00" rx="10.00" ry="9.00" fill="#aaaada" filter="url(#cb15)"/>
<ellipse cx="232.00" cy="621.00" rx="11.00" ry="8.00" fill="#aaaadc" filter="url(#cb15)"/>
<ellipse cx="256.00" cy="633.00" rx="9.00" ry="10.00" fill="#a8a8da" filter="url(#cb15)"/>
<ellipse cx="228.00" cy="664.00" rx="13.00" ry="8.00" fill="#aaaada" filter="url(#cb15)"/>
<ellipse cx="252.00" cy="659.00" rx="9.00" ry="8.00" fill="#a6a6d8" filter="url(#cb15)"/>
<ellipse cx="230.00" cy="647.00" rx="9.00" ry="8.00" fill="#a890c2" filter="url(#cb3)"/>
<ellipse cx="233.00" cy="642.00" rx="2.50" ry="2.50" fill="#f4f4f8" filter="url(#cb06)"/>
<ellipse cx="240.00" cy="645.00" rx="2.00" ry="2.00" fill="#f0f0f8" filter="url(#cb06)"/>
<ellipse cx="235.00" cy="638.00" rx="1.50" ry="1.50" fill="#f0f0f8" filter="url(#cb06)"/>
<ellipse cx="243.00" cy="649.00" rx="1.50" ry="1.50" fill="#eeeef8" filter="url(#cb06)"/>
<ellipse cx="217.00" cy="633.00" rx="2.00" ry="1.50" fill="#703080" filter="url(#cb06)"/>
<ellipse cx="227.00" cy="650.00" rx="2.00" ry="2.00" fill="#703080" filter="url(#cb06)"/>
<ellipse cx="230.00" cy="605.00" rx="3.00" ry="3.00" fill="#8a8ace" filter="url(#cb06)"/>
<ellipse cx="266.00" cy="652.00" rx="3.00" ry="3.00" fill="#8a8ace" filter="url(#cb06)"/>
<ellipse cx="214.00" cy="667.00" rx="2.50" ry="2.50" fill="#8a8ace" filter="url(#cb06)"/>
<ellipse cx="247.00" cy="673.00" rx="3.00" ry="3.00" fill="#8a8ace" filter="url(#cb06)"/>
<ellipse cx="189.00" cy="660.00" rx="2.50" ry="2.00" fill="#c890b0" filter="url(#cb06)"/>
<rect x="255.80" y="678.00" width="27.00" height="2.20" fill="#111"/>
</g>
<rect x="182.90" y="596.00" width="105.50" height="89.00" fill="none" stroke="#1a1a1a" stroke-width="1.2"/>
</svg>
</body></html>
